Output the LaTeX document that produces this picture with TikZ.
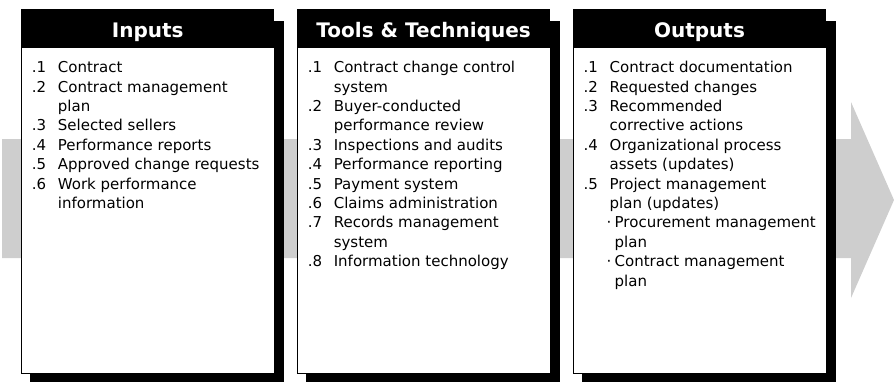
\documentclass[tikz,border=0pt]{standalone}
\usepackage{fontspec}
\setmainfont{DejaVu Sans}
\usetikzlibrary{positioning,backgrounds}

\definecolor{arrowgray}{RGB}{206,206,206}

% list entries: number column, continued line, sub entry
\newcommand{\itm}[2]{\makebox[26pt][l]{#1}#2}
\newcommand{\cnt}[1]{\hspace*{26pt}#1}
\newcommand{\subitm}[1]{\hspace*{23pt}\makebox[8pt][l]{·}#1}
\newcommand{\subcnt}[1]{\hspace*{31pt}#1}

\begin{document}
\begin{tikzpicture}[x=1pt, y=-1pt,
    hdr/.style={fill=black, text=white, font=\fontsize{20}{24}\selectfont\bfseries,
      minimum width=253pt, minimum height=38pt, inner sep=0pt,
      text height=18pt, text depth=0pt},
    bodybox/.style={draw=black, line width=1pt, fill=white,
      minimum width=253pt, minimum height=326pt, inner sep=0pt},
    itemlist/.style={anchor=north west, inner sep=0pt, align=left,
      font=\fontsize{15}{19.4}\selectfont},
    shadowfill/.style={fill=black}
  ]
  \useasboundingbox (0,0) rectangle (894,381);

  % inputs
  \node[hdr, anchor=north west] (inhead) at (21,9) {Inputs};
  \node[bodybox, below=0pt of inhead] (inbody) {};
  \node[itemlist] (inlist) at ([xshift=11pt, yshift=-11pt]inbody.north west)
    {\rule{0pt}{14pt}\itm{.1}{Contract}\\
     \itm{.2}{Contract management}\\
     \cnt{plan}\\
     \itm{.3}{Selected sellers}\\
     \itm{.4}{Performance reports}\\
     \itm{.5}{Approved change requests}\\
     \itm{.6}{Work performance}\\
     \cnt{information}};

  % tools & techniques
  \node[hdr, right=22.5pt of inhead] (toolhead) {Tools \& Techniques};
  \node[bodybox, below=0pt of toolhead] (toolbody) {};
  \node[itemlist] (toollist) at ([xshift=11pt, yshift=-11pt]toolbody.north west)
    {\rule{0pt}{14pt}\itm{.1}{Contract change control}\\
     \cnt{system}\\
     \itm{.2}{Buyer-conducted}\\
     \cnt{performance review}\\
     \itm{.3}{Inspections and audits}\\
     \itm{.4}{Performance reporting}\\
     \itm{.5}{Payment system}\\
     \itm{.6}{Claims administration}\\
     \itm{.7}{Records management}\\
     \cnt{system}\\
     \itm{.8}{Information technology}};

  % outputs
  \node[hdr, right=22.5pt of toolhead] (outhead) {Outputs};
  \node[bodybox, below=0pt of outhead] (outbody) {};
  \node[itemlist] (outlist) at ([xshift=11pt, yshift=-11pt]outbody.north west)
    {\rule{0pt}{14pt}\itm{.1}{Contract documentation}\\
     \itm{.2}{Requested changes}\\
     \itm{.3}{Recommended}\\
     \cnt{corrective actions}\\
     \itm{.4}{Organizational process}\\
     \cnt{assets (updates)}\\
     \itm{.5}{Project management}\\
     \cnt{plan (updates)}\\
     \subitm{Procurement management}\\
     \subcnt{plan}\\
     \subitm{Contract management}\\
     \subcnt{plan}};

  \begin{scope}[on background layer]
    % grey process arrow behind the boxes
    \fill[arrowgray] (2,139) -- (851,139) -- (851,102) -- (894,200)
      -- (851,298) -- (851,258) -- (2,258) -- cycle;
    % drop shadows
    \foreach \nm in {in,tool,out}
      \fill[shadowfill] ([shift={(9,12)}]\nm head.north west)
        rectangle ([shift={(9,8)}]\nm body.south east);
  \end{scope}
\end{tikzpicture}
\end{document}
